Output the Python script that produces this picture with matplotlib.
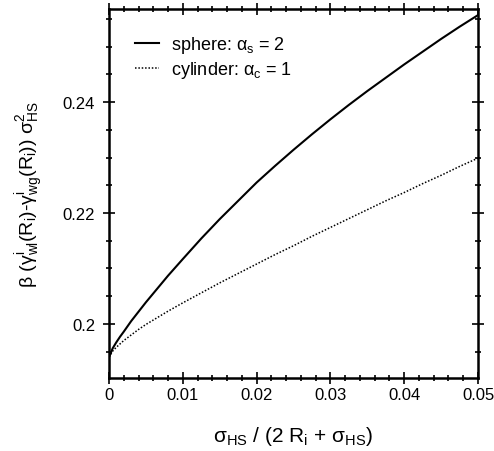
import matplotlib
matplotlib.use("Agg")
import matplotlib.pyplot as plt
from matplotlib.ticker import MultipleLocator

plt.rcParams['font.family'] = ['Liberation Sans', 'DejaVu Sans']
plt.rcParams['mathtext.fontset'] = 'custom'
plt.rcParams['mathtext.rm'] = 'Liberation Sans'
plt.rcParams['mathtext.it'] = 'Liberation Sans'
plt.rcParams['mathtext.bf'] = 'Liberation Sans:bold'

# data
x_vals = [0, 0.0005, 0.001, 0.0015, 0.002, 0.003, 0.004, 0.005, 0.006, 0.008,
          0.01, 0.0125, 0.015, 0.0175, 0.02, 0.0225, 0.025, 0.0275, 0.03, 0.0325,
          0.035, 0.0375, 0.04, 0.0425, 0.045, 0.0475, 0.05]
sphere = [0.1940, 0.1956, 0.1967, 0.1977, 0.1986, 0.2005, 0.2022, 0.2039, 0.2055, 0.2087,
          0.2117, 0.2154, 0.2189, 0.2222, 0.2255, 0.2285, 0.2314, 0.2342, 0.2369, 0.2395,
          0.2420, 0.2444, 0.2468, 0.2491, 0.2514, 0.2536, 0.2557]
cylinder = [0.1940, 0.1951, 0.1958, 0.1964, 0.1970, 0.1980, 0.1990, 0.1999, 0.2007, 0.2023,
            0.2038, 0.2056, 0.2074, 0.2091, 0.2108, 0.2125, 0.2141, 0.2158, 0.2174, 0.2190,
            0.2206, 0.2222, 0.2237, 0.2253, 0.2268, 0.2284, 0.2299]

x_ticks = [0, 0.01, 0.02, 0.03, 0.04, 0.05]
x_ticklabels = ['0', '0.01', '0.02', '0.03', '0.04', '0.05']
y_ticks = [0.20, 0.22, 0.24]
y_ticklabels = ['0.2', '0.22', '0.24']

fig = plt.figure(figsize=(4.94, 4.52), dpi=100)
ax = fig.add_axes([109/494, 1 - 378.7/452, (478 - 109)/494, (378.7 - 10)/452])

ax.plot(x_vals, sphere, color='black', lw=1.5, ls='-', label=r'sphere: $\alpha_{s}$ = 2')
ax.plot(x_vals, cylinder, color='black', lw=1.1, ls=(0, (1, 1.2)), label=r'cylinder: $\alpha_{c}$ = 1')

ax.set_xlim(0, 0.05)
ax.set_ylim(0.1903, 0.2568)

ax.set_xticks(x_ticks)
ax.set_xticklabels(x_ticklabels)
ax.set_yticks(y_ticks)
ax.set_yticklabels(y_ticklabels)
ax.xaxis.set_minor_locator(MultipleLocator(0.002))
ax.yaxis.set_minor_locator(MultipleLocator(0.005))

ax.tick_params(which='both', direction='inout', top=True, right=True,
               labelsize=12, color='black', width=1.2)
ax.tick_params(which='major', length=8)
ax.tick_params(which='minor', length=5)
ax.tick_params(axis='x', which='major', pad=2.5)
ax.tick_params(axis='y', which='major', pad=6)
for sp in ax.spines.values():
    sp.set_linewidth(1.8)

ax.set_xlabel(r'σ$_{HS}$ / (2 R$_{i}$ + σ$_{HS}$)', fontsize=15, labelpad=16)
ax.set_ylabel(r'β (γ$^{i}_{wl}$(R$_{i}$)-γ$^{i}_{wg}$(R$_{i}$)) σ$^{2}_{HS}$', fontsize=14, labelpad=12)

leg = ax.legend(loc='upper left', bbox_to_anchor=(0.026, 0.975), frameon=False,
                fontsize=13, handlelength=1.35, handletextpad=0.65, labelspacing=0.22)

fig.savefig('out.png', dpi=100)
